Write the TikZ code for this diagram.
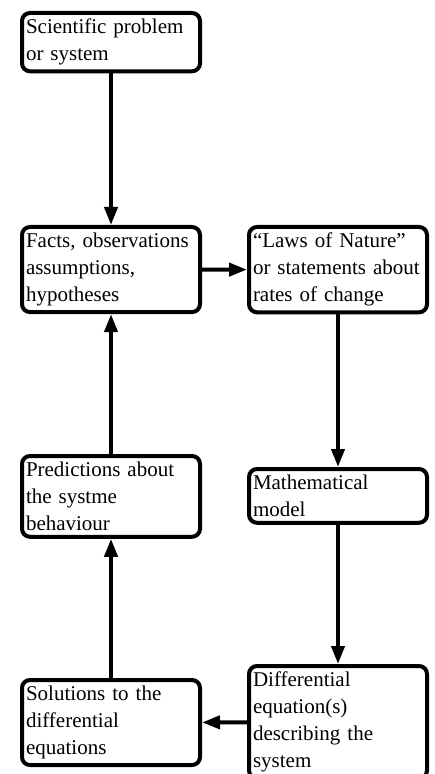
\documentclass[tikz,border=0pt]{standalone}
\usepackage{fontspec}
\setmainfont{Liberation Serif}
\usetikzlibrary{arrows.meta, positioning}
\newcommand\blockfont{\fontsize{10.5}{13.5}\selectfont\hyphenpenalty 10000 }
\tikzset{
  block/.style={draw, line width=2pt, rounded corners=4pt, inner ysep=3pt, inner xsep=2pt,
                text width=85pt, align=left, anchor=north, font=\blockfont},
  flow/.style={-{Triangle[length=9pt, width=6.5pt]}, line width=2pt}
}
\begin{document}
\begin{tikzpicture}[x=0.5pt, y=-0.5pt]
  \useasboundingbox (0,0) rectangle (434,774);
  \node[block] (prob) at (111,11) {Scientific problem\\or system};
  \node[block] (facts) at (111,225) {Facts, observations\\assumptions,\\hypotheses};
  \node[block] (laws) at (338,225) {“Laws of Nature”\\or statements about\\rates of change};
  \node[block] (model) at (338,467) {Mathematical\\model};
  \node[block] (deq) at (338,664) {Differential\\equation(s)\\describing the\\system};
  \node[block] (sol) at (111,678) {Solutions to the\\differential\\equations};
  \node[block] (pred) at (111,454) {Predictions about\\the systme\\behaviour};
  \foreach \a/\b in {prob/facts, facts/laws, laws/model, model/deq, deq/sol, sol/pred, pred/facts}
    \draw[flow] (\a) -- (\b);
\end{tikzpicture}
\end{document}
